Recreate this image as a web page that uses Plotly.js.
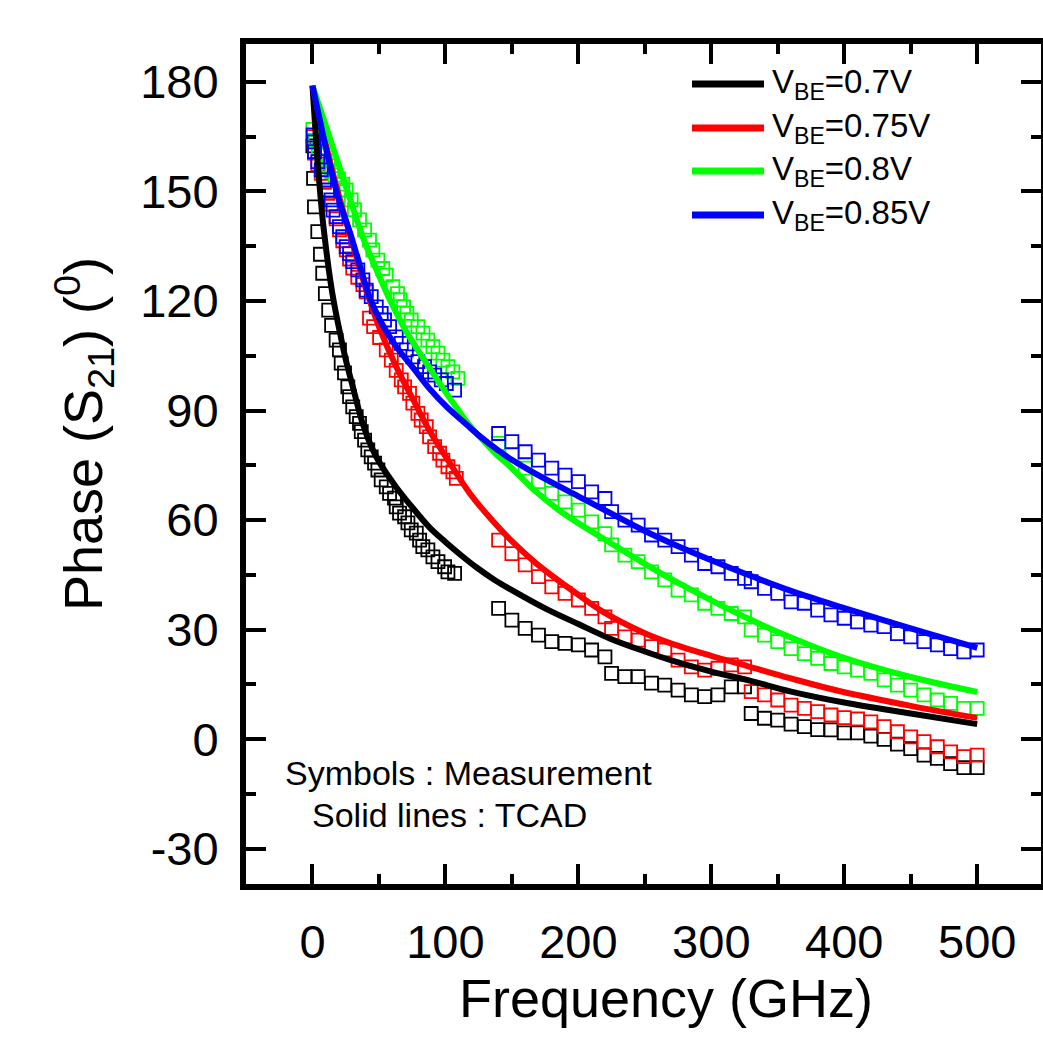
<!DOCTYPE html>
<html>
<head>
<meta charset="utf-8">
<script src="https://cdn.plot.ly/plotly-3.0.1.min.js"></script>
<style>html,body{margin:0;padding:0;background:#fff;}#chart{width:1043px;height:1043px;}</style>
</head>
<body>
<div id="chart"></div>
<script>
// ---- Measurement (symbols) ----
const measBlackF = [0.3,0.8,1.5,4,6,7.7,9.7,12.2,14.4,17.8,20.3,21.6,24.1,26.6,27.9,30.3,32.9,35.4,36.7,39.2,41.6,44.2,46.7,49.2,51.7,55.5,58,61.7,63,65.5,69.3,71.8,74.3,78.1,80.6,83,86.8,90.6,94.4,99.4,101.9,106.9,
  140,150,160,170,180,190,200,210,220,225,235,245,255,265,275,285,295,305,315,325,330,340,350,360,370,380,390,400,410,420,430,440,450,460,470,480,490,500];
const measBlackV = [162.5,153.6,145.8,139,132.8,127.6,122,117.5,113.3,109.3,106.6,103,100.3,96.5,93.8,91,88.3,86.5,84.2,81.9,79.2,77.3,75.6,73.7,71,69.1,67.3,66,63.6,61.9,60.9,59.2,57.3,56.4,54.5,52.7,51.8,49.9,48.6,47.2,45.8,45.4,
  35.8,32.6,30.3,28.5,26.7,26.2,25.8,24.4,22.5,18,17.1,17.1,15.3,14.8,13.4,12.1,11.6,12.1,14.3,14.3,7,5.7,5.2,4.1,3.4,2.6,2.5,1.7,1.7,0.8,-0.1,-1.4,-2.6,-4.4,-5.3,-6.7,-7.8,-7.8];

const measRedF = [0.5,1.5,4,6.6,9,11.5,14,17.8,20.3,22.8,25.4,27.9,30.3,34.1,37.9,40.4,42.9,46,50.5,55.5,59.3,63,66.8,69.3,73,75.5,79.3,81.8,85.6,88.1,91.9,95.6,98.1,101.9,105.6,108.2,
  140,150,160,170,180,190,200,210,220,225,235,245,255,265,275,285,295,305,315,325,330,340,350,360,370,380,390,400,410,420,430,440,450,460,470,480,490,500];
const measRedV = [165,160.5,157.5,155,152.5,149.5,146.5,142.5,139.5,136.5,134,131.5,129,126.5,124.5,122.5,115.3,113,110,106.6,103.8,101,98.4,96.5,94.7,92,89.2,87.4,85.6,82.8,80.1,78.3,76.4,74.6,73.2,71.4,
  54.5,50.8,47.7,44.5,41.7,39.9,38.1,35.8,33.5,30.3,28,27.1,25.3,24.4,21.6,19.8,18.9,19.4,20.3,19.8,13,12.1,10.7,9.3,8.4,7.5,6.6,5.9,5.5,4.7,3.4,2,0.6,-0.7,-2.1,-3.5,-4.8,-4.4];

const measGreenF = [0.3,2,4.5,7,9.5,12,14.5,17,19.5,22.8,25.4,29.1,31.6,35.4,39.2,42.9,45.4,49.2,52.9,55.5,60.5,64,66,68.5,71,74.3,79.3,83.1,86.8,90.6,94.4,98.1,101.9,105.6,109.4,
  140,150,160,170,180,190,200,210,220,225,235,245,255,265,275,285,295,305,315,325,330,340,350,360,370,380,390,400,410,420,430,440,450,460,470,480,490,500];
const measGreenV = [167,164,162,160,158.5,157,155.5,154.5,153.5,152,150.4,147.7,145,142.2,139.5,136.7,134,131.2,128.9,127.1,123.9,122,120.3,118.4,116.6,114.8,113,111.2,109.3,107.5,105.7,103.8,102,100.6,98.8,
  81,77.8,74.2,70.5,67.3,65,62.7,59.5,56.3,53.2,50.4,48.6,45.8,43.6,40.8,39.5,37.2,35.8,34.4,33.5,29.9,28.5,26.7,24.8,23.4,22.1,20.7,19.8,18.9,18,16.2,14.8,13.4,12.1,10.7,9.8,8.4,8.4];

const measBlueF = [0.5,1,1.5,4,6.6,9,11.5,14,15.5,17.8,20.3,22.8,25.4,27.9,30.3,34.1,37.9,40.4,44.2,48,51.7,54.2,58,63,66.8,70.6,75.5,79.3,84.3,88.1,91.9,96.9,100.7,106.9,
  140,150,160,170,180,190,200,210,220,225,235,245,255,265,275,285,295,305,315,325,330,340,350,360,370,380,390,400,410,420,430,440,450,460,470,480,490,500];
const measBlueV = [165.5,163.6,160.9,158.2,155.9,153.2,150.4,147.7,144.9,143.1,140.4,137.6,134.9,133,130.8,128.5,125.8,123,121.2,118.4,116.6,114.8,113,110.2,108.4,106.6,104.7,103.4,102,100.6,99.7,98.4,97.4,95.6,
  83.7,81.5,78.7,76.4,74.2,72.3,70.5,67.7,65.9,62.3,60,58.6,55.9,54.5,52.7,50.4,48.1,47.2,45.4,44,43.1,41.3,39.9,37.6,37.2,35.3,34,33.1,32.1,31.2,30.8,28.9,28,26.7,25.8,24.8,23.9,24.4];

// ---- TCAD (solid lines) ----
const tcadBlackF = [0,2,3.5,5,7.5,10,12.5,15,17.5,20,25,30,37.7,45,50,63,75,88,100,112,123.5,137,150,175,200,224,250,275,300,329,360,400,450,500];
const tcadBlackV = [179,168,160,153,143,135,128,122,117,112.5,104,97,86.5,79.5,76,69,63.5,58,54,50.3,47,43.6,40.8,35.8,31.5,27.5,24,21,18.5,16,13,10,7,4.1];

const tcadRedF = [0,5,10,15,22.8,30,40.5,50.5,63,75,88,100,118,135,150,168.7,200,218,250,269,300,329,360,397,450,500];
const tcadRedV = [179,171,163,155.5,145,136,123,112.5,102,93.5,84.5,77.5,67.5,60,54.2,48,39.5,35,29,26.3,22.8,19.8,16.6,13.1,9.1,5.8];

const tcadGreenF = [0,5,10,15,20,25,30,35,40,50,58,70,83,95.6,105,118,125.8,137,150,168.7,190,218.4,250,269,300,329,360,397,450,500];
const tcadGreenV = [179,173.5,168,162.5,157,151.5,146,140.5,135.5,127,120.5,112,104.5,97.5,92.5,86,82.8,78.5,74.2,67.6,61.5,55,48,44,38,32.8,27.8,22.6,17,12.9];

const tcadBlueF = [0,5,10,15,20,28,35,43,52.7,63,75,88,101,118,125.8,140,150,168.7,200,218.4,250,269,300,329,360,397,450,500];
const tcadBlueV = [179,170.5,162,154.5,147.5,139,130.5,121,113.5,107.5,102,96,91,85.5,83,79,76.5,72.5,66.5,63,57,53.8,49,44.8,40.6,36.2,30.3,25];

const seriesNames = ['V<sub>BE</sub>=0.7V','V<sub>BE</sub>=0.75V','V<sub>BE</sub>=0.8V','V<sub>BE</sub>=0.85V'];
const seriesColors = ['#000000','#ff0000','#00ff00','#0000ff'];
const xTickVals = [0,100,200,300,400,500];
const yTickVals = [-30,0,30,60,90,120,150,180];

const FONT = 'Liberation Sans, Arial, Helvetica, sans-serif';

const meas = [[measBlackF,measBlackV],[measRedF,measRedV],[measGreenF,measGreenV],[measBlueF,measBlueV]];
const tcad = [[tcadBlackF,tcadBlackV],[tcadRedF,tcadRedV],[tcadGreenF,tcadGreenV],[tcadBlueF,tcadBlueV]];

const traces = [];
meas.forEach((m,i)=>{
  traces.push({x:m[0], y:m[1], type:'scatter', mode:'markers', name:seriesNames[i]+' (Measurement)',
    showlegend:false,
    marker:{symbol:'square-open', size:13, color:seriesColors[i], line:{width:1.8, color:seriesColors[i]}}});
});
tcad.forEach((t,i)=>{
  traces.push({x:t[0], y:t[1], type:'scatter', mode:'lines', name:seriesNames[i],
    showlegend:false,
    line:{color:seriesColors[i], width:6, shape:'spline', smoothing:1}});
});

// manual legend (line samples + labels), top-right of plot
const shapes = [];
const annotations = [];
const legY = [0.9524,0.9,0.8488,0.7964];
seriesNames.forEach((n,i)=>{
  shapes.push({type:'line', xref:'paper', yref:'paper', x0:0.5610, x1:0.6516, y0:legY[i], y1:legY[i],
    line:{color:seriesColors[i], width:7}});
  annotations.push({xref:'paper', yref:'paper', x:0.6585, y:legY[i], xanchor:'left', yanchor:'middle',
    text:n, showarrow:false, font:{family:FONT, size:33, color:'#000'}});
});
annotations.push({xref:'paper', yref:'paper', x:0.0465, y:0.132, xanchor:'left', yanchor:'middle',
  text:'Symbols : Measurement', showarrow:false, font:{family:FONT, size:34, color:'#000'}});
annotations.push({xref:'paper', yref:'paper', x:0.0805, y:0.082, xanchor:'left', yanchor:'middle',
  text:'Solid lines : TCAD', showarrow:false, font:{family:FONT, size:34, color:'#000'}});

const axisCommon = {
  ticks:'inside', ticklen:20, tickwidth:4, tickcolor:'#000',
  showline:true, linewidth:6, linecolor:'#000', mirror:'ticks',
  showgrid:false, zeroline:false,
  tickfont:{family:FONT, size:47, color:'#000'},
};

const layout = {
  width:1043, height:1043,
  margin:{l:246, r:2, t:44, b:159, pad:0},
  paper_bgcolor:'#fff', plot_bgcolor:'#fff',
  showlegend:false,
  xaxis: Object.assign({}, axisCommon, {
    range:[-50,548], tickmode:'array', tickvals:xTickVals, ticktext:xTickVals.map(String),
    ticklabelstandoff:12,
    minor:{ticks:'inside', ticklen:10, tickwidth:4, tickcolor:'#000', dtick:50, tick0:0, showgrid:false},
    title:{text:'&nbsp;&nbsp;&nbsp;Frequency (GHz)', font:{family:FONT, size:54, color:'#000'}, standoff:12}
  }),
  yaxis: Object.assign({}, axisCommon, {
    range:[-39.7,190.4], tickmode:'array', tickvals:yTickVals, ticktext:yTickVals.map(String),
    ticklabelstandoff:12,
    minor:{ticks:'inside', ticklen:10, tickwidth:4, tickcolor:'#000', dtick:15, tick0:0, showgrid:false},
    title:{text:'&nbsp;&nbsp;&nbsp;&nbsp;Phase (S<sub>21</sub>) (<sup>0</sup>)', font:{family:FONT, size:54, color:'#000'}, standoff:22}
  }),
  shapes:shapes,
  annotations:annotations
};

Plotly.newPlot('chart', traces, layout, {displayModeBar:false, staticPlot:true});
</script>
</body>
</html>
